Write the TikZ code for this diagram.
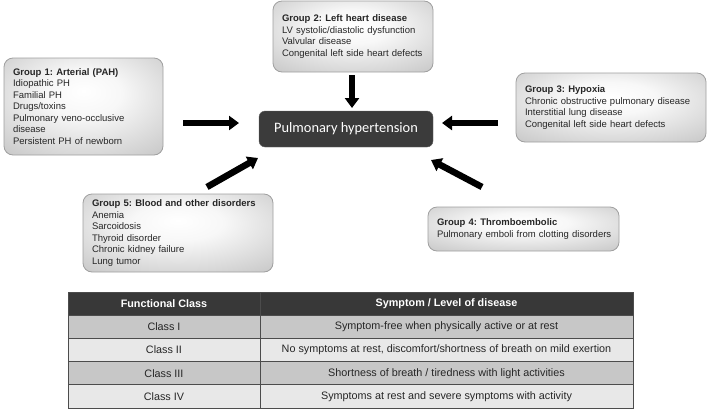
\documentclass[tikz,border=0pt]{standalone}
\usepackage{fontspec}
\setmainfont{Liberation Sans}
\newfontfamily\carlito{Carlito}
\usetikzlibrary{arrows.meta}
\frenchspacing
\pgfdeclareradialshading{boxshade}{\pgfpoint{0bp}{8bp}}{%
  color(0bp)=(white); color(12bp)=(white!94!gray); color(50bp)=(gray!60);
  color(75bp)=(gray!74)}

\begin{document}
\begin{tikzpicture}[x=1pt,y=-1pt,
  groupbox/.style={draw=gray!75, line width=0.8pt, rounded corners=9pt,
    shading=boxshade, anchor=north west,
    outer sep=0pt, inner xsep=9pt, inner ysep=0pt, align=left,
    text=black!85, font=\fontsize{9.5}{11.5}\selectfont},
  phbox/.style={fill=black!77, draw=black!60, rounded corners=6pt,
    anchor=north west, outer sep=0pt, minimum width=174, minimum height=36,
    text=white, font=\carlito\fontsize{14.4}{16}\selectfont},
  blockarrow/.style={line width=6.5pt, -{Triangle[length=10pt,width=14pt]}},
  cell/.style={draw=black!70, line width=0.8pt, anchor=north west,
    inner sep=0pt, outer sep=0pt, minimum height=23.2,
    text=black!85, font=\fontsize{10.8}{12}\selectfont}]
\useasboundingbox (0,0) rectangle (708,410);

% cause groups
\node[groupbox, minimum width=159, minimum height=97, text width=141] (g1) at (4,58)
  {\textbf{Group 1: Arterial (PAH)}\\Idiopathic PH\\Familial PH\\Drugs/toxins\\
   Pulmonary veno-occlusive\\disease\\Persistent PH of newborn};
\node[groupbox, minimum width=160, minimum height=71, text width=142] (g2) at (273,1)
  {\textbf{Group 2: Left heart disease}\\LV systolic/diastolic dysfunction\\
   Valvular disease\\Congenital left side heart defects};
\node[groupbox, minimum width=190, minimum height=69, text width=172] (g3) at (516,73)
  {\textbf{Group 3: Hypoxia}\\Chronic obstructive pulmonary disease\\
   Interstitial lung disease\\Congenital left side heart defects};
\node[groupbox, minimum width=191, minimum height=44, text width=173] (g4) at (428,207)
  {\textbf{Group 4: Thromboembolic}\\\mbox{Pulmonary emboli from clotting disorders}};
\node[groupbox, minimum width=190, minimum height=78, text width=172] (g5) at (83,194)
  {\textbf{Group 5: Blood and other disorders}\\Anemia\\Sarcoidosis\\
   Thyroid disorder\\Chronic kidney failure\\Lung tumor};

\node[phbox] (ph) at (259,111) {Pulmonary hypertension};

% arrows
\coordinate (g1tail) at (183,123);
\coordinate (g1tip) at (239,123);
\coordinate (g2tail) at (352,75);
\coordinate (g2tip) at (352,108);
\coordinate (g3tail) at (498,123);
\coordinate (g3tip) at (442,123);
\coordinate (g4tail) at (482,187);
\coordinate (g4tip) at (431,160);
\coordinate (g5tail) at (207,187);
\coordinate (g5tip) at (258,158);
\foreach \g in {1,...,5}
  \draw[blockarrow] (g\g tail) -- (g\g tip);

% functional class table
\node[cell, fill=black!78, text=white, minimum width=192, font=\bfseries\fontsize{10.8}{12}\selectfont]
  (l0) at (68,292) {Functional Class};
\node[cell, fill=black!78, text=white, minimum width=373, font=\bfseries\fontsize{10.8}{12}\selectfont]
  (r0) at (l0.north east) {Symptom / Level of disease};
\foreach \fc/\a/\b [count=\i, remember=\i as \j (initially 0)] in
  {black!22/{Class I}/{Symptom-free when physically active or at rest},
   black!9/{Class II}/{No symptoms at rest, discomfort/shortness of breath on mild exertion},
   black!22/{Class III}/{Shortness of breath / tiredness with light activities},
   black!9/{Class IV}/{Symptoms at rest and severe symptoms with activity}}
{
  \node[cell, fill=\fc, minimum width=192] (l\i) at (l\j.south west) {\a};
  \node[cell, fill=\fc, minimum width=373] (r\i) at (l\i.north east) {\b};
}
\end{tikzpicture}
\end{document}
